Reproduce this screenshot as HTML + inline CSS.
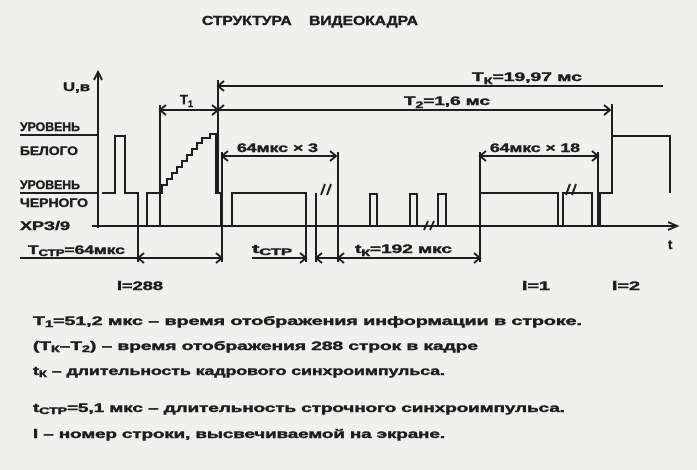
<!DOCTYPE html>
<html><head><meta charset="utf-8"><style>
html,body{margin:0;padding:0;background:#f0f0ee;}
svg{display:block}
text{font-family:"Liberation Sans","DejaVu Sans",sans-serif;font-weight:bold;fill:#1e1e1e;stroke:#1e1e1e;stroke-width:0.4;}
</style></head><body>
<svg width="697" height="470" viewBox="0 0 697 470" xmlns="http://www.w3.org/2000/svg">
<rect width="697" height="470" fill="#f0f0ee"/>
<g stroke="#1e1e1e" stroke-width="2" fill="none">
<line x1="98" y1="74" x2="98" y2="228"/>
<path d="M94 80 L98 72 L102 80"/>
<line x1="92" y1="226" x2="676" y2="226"/>
<path d="M668 222 L677 226 L668 230"/>
<line x1="20" y1="135" x2="98" y2="135"/>
<line x1="20" y1="193" x2="98" y2="193"/>
<path d="M102 193 H115 V136 H125 V193 H138 V226 H147 V193 H162 V185 H167 V179 H172 V173 H177 V167 H182 V161 H187 V155 H192 V149 H197 V143 H202 V138 H210 V134 H216 V193 H221 V226"/>
<path d="M232 226 V193 H306 V226"/>
<path d="M316 226 V193 M321 195 L325 184 M327 195 L331 184"/>
<path d="M370 226 V194 H377 V226 M410 226 V194 H417 V226 M438 226 V194 H446 V226"/>
<path d="M424 230 L428 221 M430 230 L434 221"/>
<path d="M480 226 V193 H558 V226 M563 226 V193 H592 V226 M566 195 L570 184 M572 195 L576 184"/>
<path d="M600 226 V193 H612 V136 H670 V193"/>
<line x1="160" y1="105" x2="160" y2="226"/>
<line x1="218" y1="80" x2="218" y2="193"/>
<line x1="222" y1="152" x2="222" y2="262"/>
<line x1="138" y1="226" x2="138" y2="262"/>
<line x1="338" y1="152" x2="338" y2="262"/>
<line x1="480" y1="152" x2="480" y2="262"/>
<line x1="598" y1="152" x2="598" y2="226"/>
<line x1="612" y1="104" x2="612" y2="136"/>
<line x1="306" y1="226" x2="306" y2="262"/>
<line x1="316" y1="226" x2="316" y2="262"/>
<line x1="218" y1="86" x2="663" y2="86"/>
<line x1="160" y1="110" x2="610" y2="110"/>
<line x1="222" y1="156" x2="336" y2="156"/>
<line x1="480" y1="156" x2="598" y2="156"/>
<line x1="20" y1="258" x2="138" y2="258"/>
<line x1="138" y1="258" x2="222" y2="258"/>
<line x1="252" y1="258" x2="306" y2="258"/>
<line x1="316" y1="258" x2="338" y2="258"/>
<line x1="338" y1="258" x2="480" y2="258"/>
<path d="M224 81 L218 86 L224 91"/>
<path d="M166 105 L160 110 L166 115"/>
<path d="M212 105 L218 110 L212 115 M224 105 L218 110"/>
<path d="M604 105 L610 110 L604 115"/>
<path d="M228 151 L222 156 L228 161"/>
<path d="M330 151 L336 156 L330 161"/>
<path d="M486 151 L480 156 L486 161"/>
<path d="M592 151 L598 156 L592 161"/>
<path d="M144 253 L138 258 L144 263 M216 253 L222 258 L216 263"/>
<path d="M300 253 L306 258 L300 263 M322 253 L316 258 L322 263"/>
<path d="M344 253 L338 258 L344 263 M474 253 L480 258 L474 263"/>
</g>
<g font-size="12">
<text x="202" y="25" font-size="13" textLength="216" lengthAdjust="spacingAndGlyphs">СТРУКТУРА&#160;&#160;&#160;&#160;ВИДЕОКАДРА</text>
<text x="63" y="91" textLength="27" lengthAdjust="spacingAndGlyphs">U,в</text>
<text x="20" y="131" textLength="60" lengthAdjust="spacingAndGlyphs">УРОВЕНЬ</text>
<text x="20" y="155" textLength="58" lengthAdjust="spacingAndGlyphs">БЕЛОГО</text>
<text x="20" y="189" textLength="60" lengthAdjust="spacingAndGlyphs">УРОВЕНЬ</text>
<text x="20" y="207" textLength="68" lengthAdjust="spacingAndGlyphs">ЧЕРНОГО</text>
<text x="20" y="230" textLength="50" lengthAdjust="spacingAndGlyphs">ХРЗ/9</text>
<text x="28" y="254" textLength="97" lengthAdjust="spacingAndGlyphs">T<tspan font-size="9" dy="2">СТР</tspan><tspan dy="-2">=64мкс</tspan></text>
<text x="180" y="104" font-size="13">T<tspan font-size="9" dy="3">1</tspan></text>
<text x="472" y="81" textLength="110" lengthAdjust="spacingAndGlyphs">T<tspan font-size="9" dy="3">К</tspan><tspan dy="-3">=19,97 мс</tspan></text>
<text x="404" y="105" textLength="86" lengthAdjust="spacingAndGlyphs">T<tspan font-size="9" dy="3">2</tspan><tspan dy="-3">=1,6 мс</tspan></text>
<text x="237" y="152" textLength="81" lengthAdjust="spacingAndGlyphs">64мкс × 3</text>
<text x="490" y="152" textLength="90" lengthAdjust="spacingAndGlyphs">64мкс × 18</text>
<text x="252" y="253" textLength="40" lengthAdjust="spacingAndGlyphs">t<tspan font-size="9" dy="2">СТР</tspan></text>
<text x="355" y="253" textLength="97" lengthAdjust="spacingAndGlyphs">t<tspan font-size="9" dy="3">К</tspan><tspan dy="-3">=192 мкс</tspan></text>
<text x="668" y="249" font-size="13">t</text>
<text x="117" y="290" textLength="46" lengthAdjust="spacingAndGlyphs">l=288</text>
<text x="522" y="290" textLength="28" lengthAdjust="spacingAndGlyphs">l=1</text>
<text x="612" y="290" textLength="28" lengthAdjust="spacingAndGlyphs">l=2</text>
<text x="33" y="325" textLength="549" lengthAdjust="spacingAndGlyphs">T<tspan font-size="9" dy="2">1</tspan><tspan dy="-2">=51,2 мкс – время отображения информации в строке.</tspan></text>
<text x="33" y="350" textLength="445" lengthAdjust="spacingAndGlyphs">(T<tspan font-size="9" dy="2">К</tspan><tspan dy="-2">–T</tspan><tspan font-size="9" dy="2">2</tspan><tspan dy="-2">) – время отображения 288 строк в кадре</tspan></text>
<text x="33" y="375" textLength="412" lengthAdjust="spacingAndGlyphs">t<tspan font-size="9" dy="2">К</tspan><tspan dy="-2"> – длительность кадрового синхроимпульса.</tspan></text>
<text x="33" y="412" textLength="532" lengthAdjust="spacingAndGlyphs">t<tspan font-size="9" dy="2">СТР</tspan><tspan dy="-2">=5,1 мкс – длительность строчного синхроимпульса.</tspan></text>
<text x="33" y="438" textLength="412" lengthAdjust="spacingAndGlyphs">l – номер строки, высвечиваемой на экране.</text>
</g>
</svg>
</body></html>
